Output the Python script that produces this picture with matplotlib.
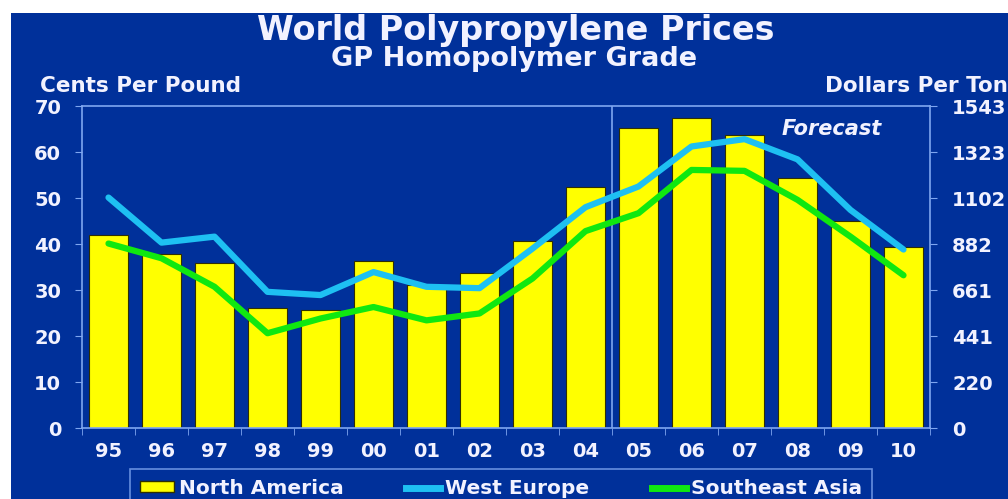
import numpy as np
import matplotlib.pyplot as plt
from matplotlib.patches import Rectangle, Patch
from matplotlib.lines import Line2D

# data (cents per pound)
years = ["95", "96", "97", "98", "99", "00", "01", "02", "03", "04",
         "05", "06", "07", "08", "09", "10"]
north_america = [41.9, 37.8, 35.8, 26.0, 25.7, 36.3, 31.0, 33.7, 40.7, 52.3,
                 65.2, 67.4, 63.7, 54.3, 45.1, 39.4]
west_europe = [50.1, 40.3, 41.6, 29.6, 28.9, 33.9, 30.7, 30.4, 39.0, 48.0,
               52.5, 61.2, 62.8, 58.4, 47.4, 38.8]
southeast_asia = [40.1, 36.9, 30.7, 20.6, 23.8, 26.3, 23.4, 24.9, 32.5, 42.8,
                  46.7, 56.1, 55.9, 49.6, 41.6, 33.2]
right_ticks = [0, 220, 441, 661, 882, 1102, 1323, 1543]

#Colors
bg = "#00309A"
frame = "#7FA6F0"
yellow = "#FFFF00"
cyan = "#1EC0F2"
green = "#10E810"
txt = "#F2F2FF"

plt.rcParams['font.family'] = ['DejaVu Sans']
plt.rcParams['font.weight'] = 'bold'

fig = plt.figure(figsize=(10.08, 4.99), dpi=100, facecolor="white")
fig.patches.append(Rectangle((11/1008, 0), 1, 1-13/499, transform=fig.transFigure,
                             facecolor=bg, edgecolor="none", zorder=-10))

ax = fig.add_axes([82/1008, 1-428/499, (930-82)/1008, (428-106)/499])
ax.set_facecolor(bg)
x = np.arange(len(years))
ax.bar(x, north_america, width=0.72, color=yellow, edgecolor="#303000", linewidth=0.8, zorder=2)
ax.plot(x, west_europe, color=cyan, lw=4.5, solid_capstyle='round', solid_joinstyle='round', zorder=3)
ax.plot(x, southeast_asia, color=green, lw=4.5, solid_capstyle='round', solid_joinstyle='round', zorder=3)
# forecast divider between 04 and 05
ax.axvline(9.5, color=frame, lw=1.2, zorder=1)

ax.set_xlim(-0.5, len(years)-0.5)
ax.set_ylim(0, 70)
ax.set_yticks(range(0, 71, 10))
ax.set_xticks(x)
ax.set_xticklabels(years)
ax.set_xticks(np.arange(-0.5, len(years), 1), minor=True)
ax.tick_params(axis='x', which='major', length=0, pad=10, labelsize=14, labelcolor=txt)
ax.tick_params(axis='x', which='minor', length=5, color=frame, direction='out')
ax.tick_params(axis='y', length=5, color=frame, labelsize=14, labelcolor=txt, pad=10)
for s in ax.spines.values():
    s.set_color(frame)
    s.set_linewidth(1.2)

ax2 = ax.twinx()
ax2.set_ylim(0, 70*22.046)
ax2.set_yticks([v*22.046 for v in range(0, 71, 10)])
ax2.set_yticklabels([str(v) for v in right_ticks])
ax2.tick_params(axis='y', length=5, color=frame, labelsize=14, labelcolor=txt, pad=11)
for s in ax2.spines.values():
    s.set_visible(False)

ax.text(0.884, 0.928, "Forecast", transform=ax.transAxes, ha='center', va='center',
        color=txt, fontsize=15, style='italic', fontweight='bold')

fig.text(0.512, 0.938, "World Polypropylene Prices", ha='center', va='center',
         color=txt, fontsize=24)
fig.text(0.51, 0.882, "GP Homopolymer Grade", ha='center', va='center',
         color=txt, fontsize=19.5)
fig.text(40/1008, 1-86/499, "Cents Per Pound", ha='left', va='center', color=txt, fontsize=15.5)
fig.text(1.0, 1-86/499, "Dollars Per Ton", ha='right', va='center', color=txt, fontsize=15.5)

handles = [Patch(facecolor=yellow, edgecolor="#303000"),
           Line2D([], [], color=cyan, lw=5),
           Line2D([], [], color=green, lw=5)]
labels = ["North America", "West Europe", "Southeast Asia"]
leg = fig.legend(handles, labels, ncol=3, loc='upper center',
                 bbox_to_anchor=(501/1008, 1-469/499),
                 frameon=True, fontsize=14.5, handlelength=1.7, handleheight=0.45,
                 handletextpad=0.25, columnspacing=3.1, borderaxespad=0, borderpad=0.5)
leg.get_frame().set_facecolor(bg)
leg.get_frame().set_edgecolor(frame)
leg.get_frame().set_linewidth(1.2)
leg.get_frame().set_boxstyle('square', pad=0)
for t in leg.get_texts():
    t.set_color(txt)

fig.savefig("out.png", dpi=100, facecolor="white")
